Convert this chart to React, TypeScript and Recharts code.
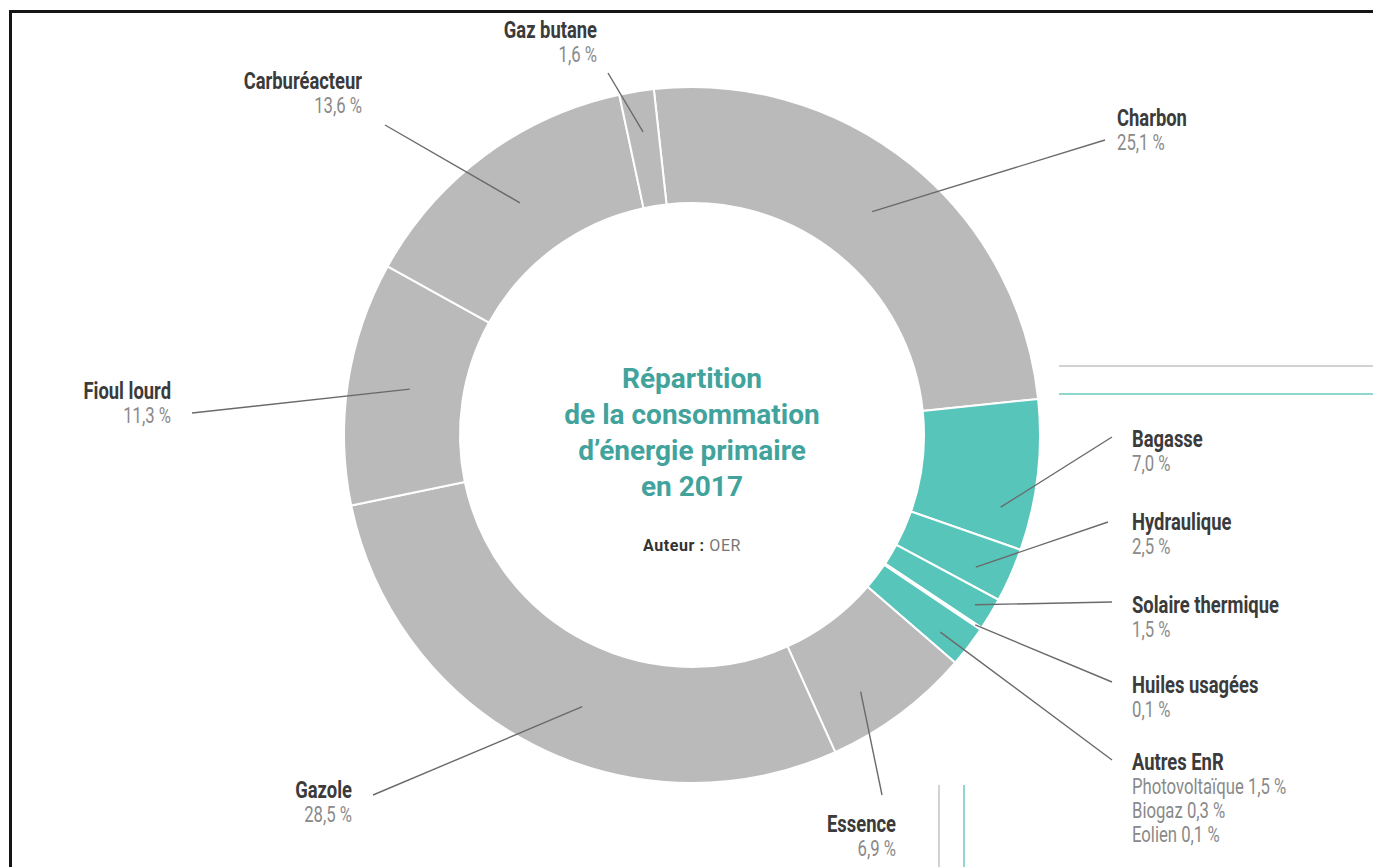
import React from "react"
import { PieChart, Pie, Cell } from "recharts"

// Répartition de la consommation d'énergie primaire en 2017 (source OER)
const categories = [
  "Charbon",
  "Bagasse",
  "Hydraulique",
  "Solaire thermique",
  "Huiles usagées",
  "Autres EnR",
  "Essence",
  "Gazole",
  "Fioul lourd",
  "Carburéacteur",
  "Gaz butane",
]
const shares = [25.1, 7.0, 2.5, 1.5, 0.1, 1.9, 6.9, 28.5, 11.3, 13.6, 1.6]
const renewable = [false, true, true, true, true, true, false, false, false, false, false]

const autresEnRNames = ["Photovoltaïque", "Biogaz", "Eolien"]
const autresEnRShares = [1.5, 0.3, 0.1]

const W = 1373
const H = 867
const CX = 692
const CY = 435
const GREY = "#bababa"
const TEAL = "#58c5bb"
const FONT = "Roboto, sans-serif"

// where each label sits and where its leader line ends (layout only)
// r = radius where the leader starts, da = clockwise nudge from the slice middle
const labelLayout: Record<string, { x: number; y: number; anchor: "start" | "end"; lx: number; ly: number; r: number; da: number }> = {
  Charbon: { x: 1117, y: 126, anchor: "start", lx: 1105, ly: 140, r: 287, da: 0 },
  Bagasse: { x: 1132, y: 447, anchor: "start", lx: 1112, ly: 437, r: 317, da: 6.5 },
  Hydraulique: { x: 1132, y: 530, anchor: "start", lx: 1108, ly: 522, r: 313, da: 1.2 },
  "Solaire thermique": { x: 1132, y: 613, anchor: "start", lx: 1112, ly: 602, r: 330, da: 0 },
  "Huiles usagées": { x: 1132, y: 693, anchor: "start", lx: 1112, ly: 682, r: 341, da: 0 },
  "Autres EnR": { x: 1132, y: 770, anchor: "start", lx: 1112, ly: 760, r: 317, da: 1 },
  Essence: { x: 896, y: 832, anchor: "end", lx: 882, ly: 795, r: 307, da: 3.4 },
  Gazole: { x: 352, y: 798, anchor: "end", lx: 373, ly: 795, r: 293, da: -5 },
  "Fioul lourd": { x: 171, y: 399, anchor: "end", lx: 192, ly: 413, r: 286, da: 0.6 },
  Carburéacteur: { x: 362, y: 89, anchor: "end", lx: 385, ly: 125, r: 289, da: 0 },
  "Gaz butane": { x: 597, y: 38, anchor: "end", lx: 608, ly: 73, r: 307, da: 0 },
}

const data = categories.map((name, i) => ({ name, value: shares[i], renewable: renewable[i] }))

const fmt = (v: number) => `${v.toFixed(1).replace(".", ",")} %`

const RAD = Math.PI / 180

const renderLabel = (props: any) => {
  const { cx, cy, midAngle, index } = props
  const name = categories[index]
  const l = labelLayout[name]
  const a = midAngle - l.da
  const sx = cx + l.r * Math.cos(-a * RAD)
  const sy = cy + l.r * Math.sin(-a * RAD)
  const extra = name === "Autres EnR" ? autresEnRNames.map((n, k) => `${n} ${fmt(autresEnRShares[k])}`) : [fmt(shares[index])]
  return (
    <g key={name}>
      <line x1={sx} y1={sy} x2={l.lx} y2={l.ly} stroke="#6a6a6a" strokeWidth={1.4} />
      <text
        transform={`translate(${l.x},${l.y}) scale(0.8,1)`}
        textAnchor={l.anchor}
        fontFamily={FONT}
        fontSize={23}
        fontWeight={700}
        fill="#3b3b3b"
      >
        {name}
      </text>
      {extra.map((t, k) => (
        <text
          key={k}
          transform={`translate(${l.x},${l.y + 24 * (k + 1)}) scale(0.76,1)`}
          textAnchor={l.anchor}
          fontFamily={FONT}
          fontSize={22}
          fill="#8a8a8a"
        >
          {t}
        </text>
      ))}
    </g>
  )
}

export default function App() {
  return (
    <div style={{ position: "absolute", left: 0, top: 0, width: W, height: H, background: "#fff", overflow: "hidden" }}>
      {/* cropped frame */}
      <div style={{ position: "absolute", left: 9, top: 10, right: -10, bottom: -10, borderLeft: "3px solid #151515", borderTop: "3px solid #151515" }} />
      {/* decorative rules */}
      <div style={{ position: "absolute", left: 1059, top: 365, width: 320, height: 2, background: "#d2d2d2" }} />
      <div style={{ position: "absolute", left: 1059, top: 393, width: 320, height: 2, background: "#8fd6cf" }} />
      <div style={{ position: "absolute", left: 938, top: 785, width: 2, height: 90, background: "#d2d2d2" }} />
      <div style={{ position: "absolute", left: 963, top: 785, width: 2, height: 90, background: "#8fd6cf" }} />

      <div style={{ position: "absolute", left: 0, top: 0 }}>
        <PieChart width={W} height={H} margin={{ top: 0, right: 0, bottom: 0, left: 0 }}>
          <Pie
            data={data}
            dataKey="value"
            nameKey="name"
            cx={CX}
            cy={CY}
            innerRadius={232}
            outerRadius={348}
            startAngle={96.3}
            endAngle={-263.7}
            stroke="#ffffff"
            strokeWidth={2}
            label={renderLabel}
            labelLine={false}
            isAnimationActive={false}
          >
            {data.map((d) => (
              <Cell key={d.name} fill={d.renewable ? TEAL : GREY} />
            ))}
          </Pie>
        </PieChart>
      </div>

      <div
        style={{
          position: "absolute",
          left: CX - 200,
          top: 361,
          width: 400,
          textAlign: "center",
          fontFamily: "Roboto, sans-serif",
          fontWeight: 700,
          fontSize: 28,
          lineHeight: "36px",
          color: "#41a39c",
        }}
      >
        Répartition
        <br />
        de la consommation
        <br />
        d’énergie primaire
        <br />
        en 2017
      </div>
      <div
        style={{
          position: "absolute",
          left: CX - 150,
          top: 536,
          width: 300,
          textAlign: "center",
          fontFamily: "Roboto, sans-serif",
          fontSize: 16,
          letterSpacing: 0.6,
        }}
      >
        <span style={{ fontWeight: 700, color: "#333" }}>Auteur : </span>
        <span style={{ color: "#777" }}>OER</span>
      </div>
    </div>
  )
}
